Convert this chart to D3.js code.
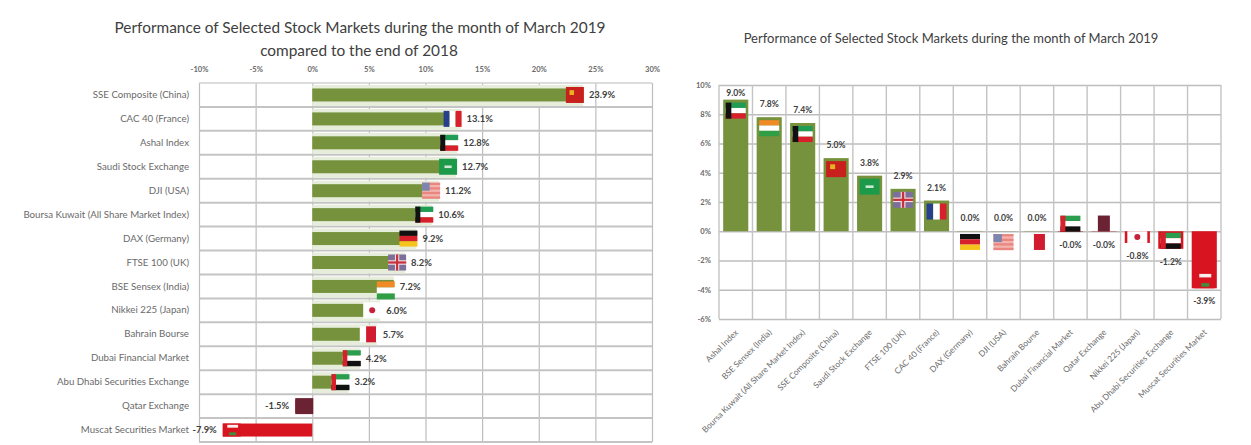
<!DOCTYPE html>
<html>
<head>
<meta charset="utf-8">
<script src="https://cdn.jsdelivr.net/npm/d3@7"></script>
<style>
    html, body { margin: 0; padding: 0; background: #fff; }
    svg { display: block; }
    text { font-family: Lato, "Liberation Sans", sans-serif; }
    .title { fill: #404040; text-anchor: middle; }
    .tick-label { fill: #6a6a6a; }
    .value-label { fill: #404040; font-weight: 700; }
    .grid line { stroke: #bdbdbd; }
</style>
</head>
<body>
<svg id="chart" width="1251" height="445"></svg>
<script>
// left chart: march 2019 compared to the end of 2018
const leftCategories = ["SSE Composite (China)", "CAC 40 (France)", "Ashal Index", "Saudi Stock Exchange", "DJI (USA)",
    "Boursa Kuwait (All Share Market Index)", "DAX (Germany)", "FTSE 100 (UK)", "BSE Sensex (India)", "Nikkei 225 (Japan)",
    "Bahrain Bourse", "Dubai Financial Market", "Abu Dhabi Securities Exchange", "Qatar Exchange", "Muscat Securities Market"];
const leftValues = [23.9, 13.1, 12.8, 12.7, 11.2, 10.6, 9.2, 8.2, 7.2, 6.0, 5.7, 4.2, 3.2, -1.5, -7.9];
const leftFlags = ["china", "france", "kuwait", "saudi", "usa", "kuwait", "germany", "uk", "india", "japan", "bahrain", "uae", "uae", "qatar", "oman"];
const leftTicks = [-10, -5, 0, 5, 10, 15, 20, 25, 30];

// right chart: month of march 2019
const rightCategories = ["Ashal Index", "BSE Sensex (India)", "Boursa Kuwait (All Share Market Index)", "SSE Composite (China)",
    "Saudi Stock Exchange", "FTSE 100 (UK)", "CAC 40 (France)", "DAX (Germany)", "DJI (USA)", "Bahrain Bourse",
    "Dubai Financial Market", "Qatar Exchange", "Nikkei 225 (Japan)", "Abu Dhabi Securities Exchange", "Muscat Securities Market"];
const rightValues = [9.0, 7.8, 7.4, 5.0, 3.8, 2.9, 2.1, 0.02, 0.01, 0.02, -0.03, -0.02, -0.8, -1.2, -3.9];
const rightFlags = ["kuwait", "india", "kuwait", "china", "saudi", "uk", "france", "germany", "usa", "bahrain", "uae", "qatar", "japan", "uae", "oman"];
const rightTicks = [10, 8, 6, 4, 2, 0, -2, -4, -6];

const green = "#76923c";
const paleGreen = "#e7eddb";
const red = "#d7141f";

const svg = d3.select("#chart");
const pct = v => v.toFixed(1) + "%";

// every flag is a few rects in a box w x h, so the charts only have to say where the box goes
function drawFlag(parent, key, x, y, w, h) {
    const g = parent.append("g").attr("transform", `translate(${x},${y})`);
    const box = (fx, fy, fw, fh, fill) => g.append("rect")
        .attr("x", fx * w).attr("y", fy * h)
        .attr("width", fw * w).attr("height", fh * h)
        .attr("fill", fill);

    if (key === "china") {
        box(0, 0, 1, 1, "#c8201c");
        box(0.2, 0.2, 0.25, 0.3, "#e6b422");
    } else if (key === "france") {
        box(0, 0, 1 / 3, 1, "#27408b");
        box(1 / 3, 0, 1 / 3, 1, "#fff");
        box(2 / 3, 0, 1 / 3, 1, "#d8202c");
    } else if (key === "kuwait") {
        box(0, 0, 1, 1 / 3, "#1f9d55");
        box(0, 1 / 3, 1, 1 / 3, "#fff");
        box(0, 2 / 3, 1, 1 / 3, "#d8202c");
        box(0, 0, 0.28, 1, "#111");
    } else if (key === "saudi") {
        box(0, 0, 1, 1, "#1c9a4a");
        box(0.3, 0.42, 0.4, 0.16, "#cfe8d5");
    } else if (key === "usa") {
        box(0, 0, 1, 1, "#f3b4ae");
        d3.range(0, 1, 2 / 7).forEach(s => box(0, s, 1, 1 / 7, "#e8867f"));
        box(0, 0, 0.42, 0.5, "#7d84ad");
    } else if (key === "germany") {
        box(0, 0, 1, 1 / 3, "#111");
        box(0, 1 / 3, 1, 1 / 3, "#d8202c");
        box(0, 2 / 3, 1, 1 / 3, "#f6c21c");
    } else if (key === "uk") {
        box(0, 0, 1, 1, "#7d6f9c");
        box(0, 0.36, 1, 0.28, "#f2dfe2");
        box(0.38, 0, 0.24, 1, "#f2dfe2");
        box(0, 0.43, 1, 0.14, "#c8303c");
        box(0.44, 0, 0.12, 1, "#c8303c");
    } else if (key === "india") {
        box(0, 0, 1, 1 / 3, "#f08a24");
        box(0, 1 / 3, 1, 1 / 3, "#fff");
        box(0, 2 / 3, 1, 1 / 3, "#2f9e44");
    } else if (key === "japan") {
        box(0, 0, 1, 1, "#fff");
        g.append("circle").attr("cx", w / 2).attr("cy", h / 2).attr("r", 3).attr("fill", "#c8203a");
    } else if (key === "bahrain") {
        box(0, 0, 1, 1, "#fff");
        box(0.35, 0, 0.55, 1, "#d01c2e");
    } else if (key === "uae") {
        box(0, 0, 1, 1 / 3, "#2a9d4f");
        box(0, 1 / 3, 1, 1 / 3, "#fff");
        box(0, 2 / 3, 1, 1 / 3, "#111");
        box(0, 0, 0.25, 1, "#d8202c");
    } else if (key === "qatar") {
        box(0, 0, 1, 1, "#6b2233");
    } else if (key === "oman") {
        box(0, 0, 1, 1, red);
        box(0.25, 0.1, 0.6, 0.22, "#fbeeee");
        box(0.35, 0.68, 0.4, 0.22, "#3f8f3a");
    }
}

function drawLeftChart() {
    const top = 83, bottom = 442, left = 199, right = 652;

    const xScale = d3.scaleLinear().domain([-10, 30]).range([left, right]);
    const yScale = d3.scaleBand().domain(leftCategories).range([top, bottom]);
    const rowH = yScale.bandwidth();
    const barH = 13;

    svg.append("text").attr("class", "title").attr("x", 360).attr("y", 33)
        .style("font-size", "15.4px").text("Performance of Selected Stock Markets during the month of March 2019");
    svg.append("text").attr("class", "title").attr("x", 359).attr("y", 56)
        .style("font-size", "15.4px").text("compared to the end of 2018");

    // top axis, its ticks are the vertical gridlines
    const xAxis = d3.axisTop(xScale)
        .tickValues(leftTicks)
        .tickFormat(d => d + "%")
        .tickSize(-(bottom - top))
        .tickPadding(11);
    const xAxisG = svg.append("g").attr("class", "grid")
        .attr("transform", `translate(0,${top})`)
        .call(xAxis)
        .call(g => g.select(".domain").remove());
    xAxisG.selectAll("line").attr("stroke-width", 1.2);
    xAxisG.selectAll("text").attr("class", "tick-label").style("font-size", "7.6px").style("font-weight", 700);

    // horizontal row lines
    svg.append("g").selectAll("line")
        .data(leftCategories)
        .join("line")
        .attr("x1", left).attr("x2", right)
        .attr("y1", d => yScale(d) + rowH)
        .attr("y2", d => yScale(d) + rowH)
        .attr("stroke", "#c4c4c4")
        .attr("stroke-width", 2);
    svg.append("line").attr("x1", left).attr("x2", right).attr("y1", top).attr("y2", top)
        .attr("stroke", "#d0d0d0").attr("stroke-width", 1.5);

    // category labels
    const yAxisG = svg.append("g")
        .attr("transform", `translate(${left},0)`)
        .call(d3.axisLeft(yScale).tickSize(0).tickPadding(10))
        .call(g => g.select(".domain").remove());
    yAxisG.selectAll("text").attr("class", "tick-label").style("font-size", "9.7px");

    const rows = leftCategories.map((c, i) => ({name: c, value: leftValues[i], flag: leftFlags[i]}));

    // pale band behind the positive bars
    svg.append("g").selectAll("rect")
        .data(rows.filter(d => d.value > 0))
        .join("rect")
        .attr("x", xScale(0))
        .attr("y", d => yScale(d.name) + 2)
        .attr("width", d => xScale(d.value) - xScale(0))
        .attr("height", rowH - 3)
        .attr("fill", paleGreen);

    svg.append("g").selectAll("rect")
        .data(rows)
        .join("rect")
        .attr("x", d => Math.min(xScale(0), xScale(d.value)))
        .attr("y", d => yScale(d.name) + (rowH - barH) / 2)
        .attr("width", d => Math.abs(xScale(d.value) - xScale(0)))
        .attr("height", barH)
        .attr("fill", d => d.value < 0 ? red : green);

    const flagsG = svg.append("g");
    rows.forEach(d => {
        const w = 18, h = d.flag === "india" ? 18 : 16;
        const x = d.value < 0 ? xScale(d.value) : xScale(d.value) - w + 1;
        const y = yScale(d.name) + (rowH - h) / 2 + (d.flag === "india" ? 4 : 0);
        if (d.flag === "oman") {
            drawFlag(flagsG, d.flag, x, y + 1.5, w, barH);
        } else {
            drawFlag(flagsG, d.flag, x, y, w, h);
        }
    });

    svg.append("g").selectAll("text")
        .data(rows)
        .join("text")
        .attr("class", "value-label")
        .attr("x", d => xScale(d.value) + (d.value < 0 ? -6 : 6))
        .attr("y", d => yScale(d.name) + rowH / 2)
        .attr("dy", "0.35em")
        .attr("text-anchor", d => d.value < 0 ? "end" : "start")
        .style("font-size", "9.4px")
        .text(d => pct(d.value));
}

function drawRightChart() {
    const top = 85, bottom = 319, left = 719, right = 1221;

    const xScale = d3.scaleBand().domain(rightCategories).range([left, right]).paddingInner(0.25).paddingOuter(0.125);
    const yScale = d3.scaleLinear().domain([-6, 10]).range([bottom, top]);
    const band = (right - left) / rightCategories.length;

    svg.append("text").attr("class", "title").attr("x", 951).attr("y", 43)
        .style("font-size", "13px").text("Performance of Selected Stock Markets during the month of March 2019");

    const yAxis = d3.axisLeft(yScale)
        .tickValues(rightTicks)
        .tickFormat(d => d + "%")
        .tickSize(-(right - left))
        .tickPadding(8);
    const yAxisG = svg.append("g").attr("class", "grid")
        .attr("transform", `translate(${left},0)`)
        .call(yAxis)
        .call(g => g.select(".domain").remove());
    yAxisG.selectAll("line").attr("stroke-width", 1.4);
    yAxisG.selectAll("text").attr("class", "tick-label").style("font-size", "7.6px").style("font-weight", 700);

    // vertical lines between the categories
    svg.append("g").selectAll("line")
        .data(d3.range(rightCategories.length + 1))
        .join("line")
        .attr("x1", i => left + i * band).attr("x2", i => left + i * band)
        .attr("y1", top).attr("y2", bottom)
        .attr("stroke", "#c4c4c4")
        .attr("stroke-width", 1.4);

    const rows = rightCategories.map((c, i) => ({name: c, value: rightValues[i], flag: rightFlags[i]}));

    svg.append("g").selectAll("rect")
        .data(rows)
        .join("rect")
        .attr("x", d => xScale(d.name))
        .attr("y", d => Math.min(yScale(0), yScale(d.value)))
        .attr("width", xScale.bandwidth())
        .attr("height", d => Math.abs(yScale(d.value) - yScale(0)))
        .attr("fill", d => d.value < 0 ? red : green);

    const flagsG = svg.append("g");
    rows.forEach(d => {
        const w = d.flag === "qatar" ? 12 : 20;
        const x = xScale(d.name) + (xScale.bandwidth() - w) / 2;
        const barLen = Math.abs(yScale(d.value) - yScale(0));
        if (d.value >= 0) {
            drawFlag(flagsG, d.flag, x, yScale(d.value) + 3, w, 16);
        } else {
            // tiny negative bars: the flag stands above the axis, longer ones keep it inside the bar
            const h = barLen > 5 ? Math.min(16, barLen) : 16;
            drawFlag(flagsG, d.flag, x, yScale(d.value) - h, w, h);
        }
    });

    svg.append("g").selectAll("text")
        .data(rows)
        .join("text")
        .attr("class", "value-label")
        .attr("x", d => xScale(d.name) + xScale.bandwidth() / 2)
        .attr("y", d => d.value < 0 ? yScale(d.value) + 13 : Math.max(yScale(d.value) - 13, top + 8))
        .attr("dy", "0.35em")
        .attr("text-anchor", "middle")
        .style("font-size", "8.6px")
        .text(d => pct(d.value));

    // rotated category labels, they end under the middle of each bar
    svg.append("g").selectAll("text")
        .data(rightCategories)
        .join("text")
        .attr("class", "tick-label")
        .attr("transform", d => `translate(${xScale(d) + xScale.bandwidth() / 2 + 3},${bottom + 14}) rotate(-45)`)
        .attr("text-anchor", "end")
        .style("font-size", "8.3px")
        .text(d => d);
}

drawLeftChart();
drawRightChart();
</script>
</body>
</html>
